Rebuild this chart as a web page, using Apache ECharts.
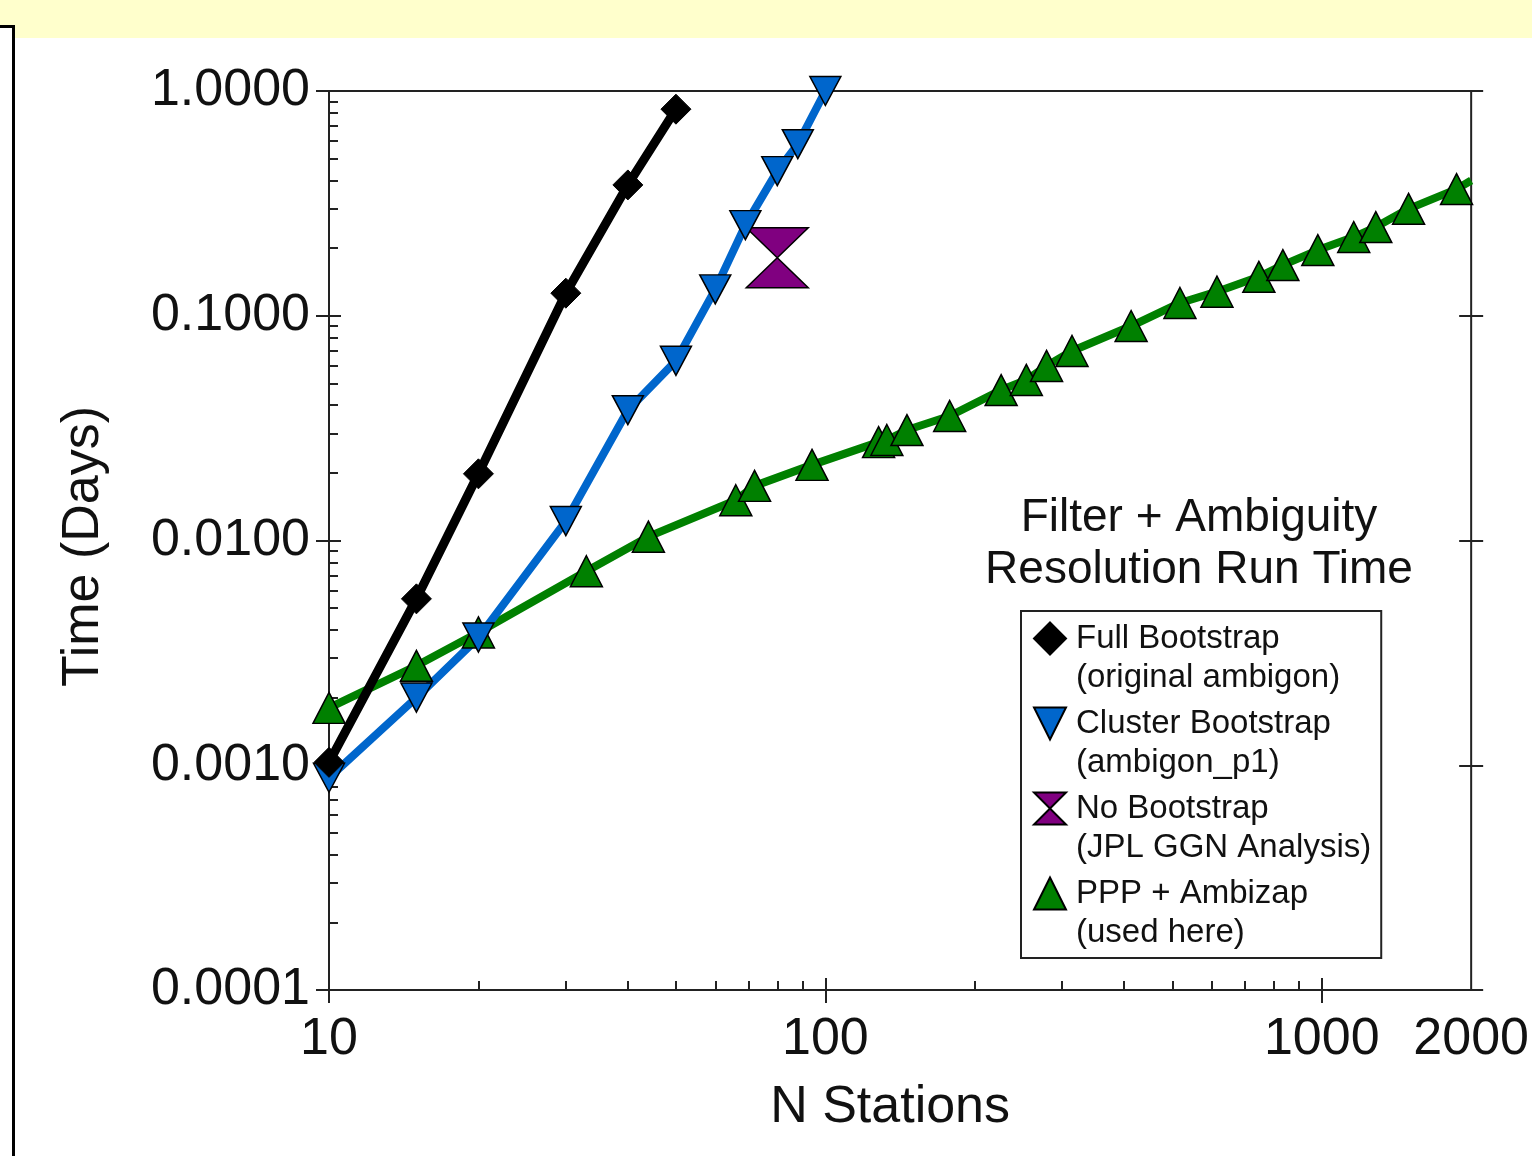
<!DOCTYPE html>
<html>
<head>
<meta charset="utf-8">
<title>Filter + Ambiguity Resolution Run Time</title>
<script src="https://cdn.jsdelivr.net/npm/echarts@6/dist/echarts.min.js"></script>
<style>
  html, body { margin: 0; padding: 0; background: #fff; }
  #band { position: absolute; left: 0; top: 0; width: 1532px; height: 38px; background: #ffffcc; }
  #frame { position: absolute; left: -10px; top: 25px; width: 19px; height: 1200px; border: 3px solid #000; background: #fff; }
  #chart { position: absolute; left: 0; top: 0; width: 1532px; height: 1156px; }
</style>
</head>
<body>
<div id="band"></div>
<div id="frame"></div>
<div id="chart"></div>
<script>
// Full Bootstrap (original ambigon)
const fullN = [10, 15, 20, 30, 40, 50]
const fullT = [0.00103, 0.0055, 0.0198, 0.126, 0.382, 0.83]
// Cluster Bootstrap (ambigon_p1)
const clusterN = [10, 15, 20, 30, 40, 50, 60, 69, 80, 88, 100]
const clusterT = [0.00088, 0.0020, 0.0037, 0.0122, 0.038, 0.063, 0.131, 0.253, 0.44, 0.58, 1.0]
// No Bootstrap (JPL GGN Analysis)
const noN = [80]
const noT = [0.181]
// PPP + Ambizap (used here)
const pppN = [10, 15, 20, 33, 44, 66, 72, 94, 128, 133, 146, 178, 226, 254, 279, 314, 413, 518, 615, 747, 835, 982, 1160, 1285, 1496, 1869, 2000]
const pppT = [0.0018, 0.00277, 0.0039, 0.0073, 0.0104, 0.0151, 0.0175, 0.0217, 0.0274, 0.028, 0.031, 0.0358, 0.0467, 0.0518, 0.0598, 0.0697, 0.090, 0.114, 0.128, 0.149, 0.168, 0.196, 0.224, 0.248, 0.299, 0.366, 0.40]

// tick labels / tick values
const xMajor = [10, 100, 1000]
const xLabels = [10, 100, 1000, 2000]
const xMinor = [20, 30, 40, 50, 60, 70, 80, 90, 200, 300, 400, 500, 600, 700, 800, 900]
const yMajor = [0.0001, 0.001, 0.01, 0.1, 1]
const minorMult = [2, 3, 4, 5, 6, 7, 8, 9]

const legendSub = {
  'Full Bootstrap': '(original ambigon)',
  'Cluster Bootstrap': '(ambigon_p1)',
  'No Bootstrap': '(JPL GGN Analysis)',
  'PPP + Ambizap': '(used here)'
}

const FONT = '"Liberation Sans", Arial, Helvetica, sans-serif'
const AXIS = '#222'
const downTri = 'path://M0,0 L10,0 L5,10 Z'
const upTri = 'path://M5,0 L10,10 L0,10 Z'
const hourglass = 'path://M0,0 L10,0 L0,10 L10,10 Z'

const lg = v => Math.log10(v)
const pairs = (xs, ys) => xs.map((x, i) => [x, ys[i]])

let yMinor = []
for (let i = 0; i < yMajor.length - 1; i++) {
  minorMult.forEach(m => yMinor.push(lg(yMajor[i] * m)))
}

const xMin = lg(10)
const xMax = lg(2000)

// helper axes living in log10 space, only used for ticks/labels
function tickX(opts) {
  return Object.assign({
    type: 'value', position: 'bottom', min: xMin, max: xMax,
    axisLine: { show: false, onZero: false }, axisLabel: { show: false }, splitLine: { show: false }
  }, opts)
}
function tickY(pos, opts) {
  return Object.assign({
    type: 'value', position: pos, min: -4, max: 0,
    axisLine: { show: false, onZero: false }, axisLabel: { show: false }, splitLine: { show: false }
  }, opts)
}

const chart = echarts.init(document.getElementById('chart'))
chart.setOption({
  animation: false,
  title: {
    text: 'Filter + Ambiguity\nResolution Run Time',
    left: 1199,
    top: 492,
    padding: 0,
    textAlign: 'center',
    textStyle: { fontFamily: FONT, fontSize: 46, fontWeight: 'normal', lineHeight: 52, color: '#111' }
  },
  legend: {
    orient: 'vertical',
    left: 1021,
    top: 611,
    padding: [-31, 10, 6, 12],
    itemGap: -32,
    itemWidth: 32,
    itemHeight: 32,
    borderColor: AXIS,
    borderWidth: 2,
    selectedMode: false,
    data: [
      { name: 'Full Bootstrap', icon: 'diamond' },
      { name: 'Cluster Bootstrap', icon: downTri },
      { name: 'No Bootstrap', icon: hourglass },
      { name: 'PPP + Ambizap', icon: upTri }
    ],
    formatter: name => '\n' + name + '\n' + legendSub[name],
    textStyle: { fontFamily: FONT, fontSize: 33, lineHeight: 39, color: '#111', padding: [0, 0, 0, 5] }
  },
  grid: {
    left: 329, right: 57, top: 91, bottom: 166,
    show: true, borderColor: AXIS, borderWidth: 2, backgroundColor: 'transparent'
  },
  xAxis: [
    {
      type: 'log', logBase: 10, min: 10, max: 2000, position: 'bottom',
      axisLine: { show: false, onZero: false }, axisTick: { show: false }, axisLabel: { show: false }, splitLine: { show: false }
    },
    tickX({
      axisTick: { show: true, inside: false, length: 13, customValues: xMajor.map(lg), lineStyle: { color: AXIS, width: 2 } },
      axisLabel: {
        show: true, customValues: xLabels.map(lg), margin: 24,
        formatter: v => String(Math.round(Math.pow(10, v))),
        fontFamily: FONT, fontSize: 52, color: '#111'
      },
      name: 'N Stations', nameLocation: 'middle', nameGap: 92,
      nameTextStyle: { fontFamily: FONT, fontSize: 52, color: '#111', padding: [0, 20, 0, 0] }
    }),
    tickX({ axisTick: { show: true, inside: true, length: 12, customValues: xMajor.map(lg), lineStyle: { color: AXIS, width: 2 } } }),
    tickX({ axisTick: { show: true, inside: true, length: 9, customValues: xMinor.map(lg), lineStyle: { color: AXIS, width: 2 } } })
  ],
  yAxis: [
    {
      type: 'log', logBase: 10, min: 0.0001, max: 1, position: 'left',
      axisLine: { show: false, onZero: false },
      axisTick: { show: true, inside: false, length: 13, lineStyle: { color: AXIS, width: 2 } },
      axisLabel: { margin: 19, formatter: v => Number(v).toFixed(4), fontFamily: FONT, fontSize: 52, color: '#111' },
      splitLine: { show: false },
      name: 'Time (Days)', nameLocation: 'middle', nameGap: 219,
      nameTextStyle: { fontFamily: FONT, fontSize: 52, color: '#111', padding: [0, 12, 0, 0] }
    },
    tickY('left', { interval: 1, axisTick: { show: true, inside: true, length: 12, lineStyle: { color: AXIS, width: 2 } } }),
    tickY('left', { axisTick: { show: true, inside: true, length: 9, customValues: yMinor, lineStyle: { color: AXIS, width: 2 } } }),
    tickY('right', { interval: 1, axisTick: { show: true, inside: false, length: 12, lineStyle: { color: AXIS, width: 2 } } }),
    tickY('right', { interval: 1, axisTick: { show: true, inside: true, length: 12, lineStyle: { color: AXIS, width: 2 } } })
  ],
  series: [
    {
      name: 'PPP + Ambizap', type: 'line', xAxisIndex: 0, yAxisIndex: 0,
      data: pairs(pppN, pppT).map((p, i) => i === pppN.length - 1 ? { value: p, symbol: 'none' } : p),
      symbol: upTri, symbolSize: [32, 31],
      lineStyle: { color: '#008000', width: 8 },
      itemStyle: { color: '#008000', borderColor: '#000', borderWidth: 1.5 }
    },
    {
      name: 'No Bootstrap', type: 'line', xAxisIndex: 0, yAxisIndex: 0,
      data: pairs(noN, noT),
      symbol: hourglass, symbolSize: [62, 60],
      lineStyle: { width: 0 },
      itemStyle: { color: '#800080', borderColor: '#000', borderWidth: 1.5 }
    },
    {
      name: 'Cluster Bootstrap', type: 'line', xAxisIndex: 0, yAxisIndex: 0,
      data: pairs(clusterN, clusterT),
      symbol: downTri, symbolSize: [31, 29],
      lineStyle: { color: '#0066cc', width: 8 },
      itemStyle: { color: '#0066cc', borderColor: '#000', borderWidth: 1.5 }
    },
    {
      name: 'Full Bootstrap', type: 'line', xAxisIndex: 0, yAxisIndex: 0,
      data: pairs(fullN, fullT),
      symbol: 'diamond', symbolSize: [30, 30],
      lineStyle: { color: '#000', width: 9 },
      itemStyle: { color: '#000', borderColor: '#000', borderWidth: 1 }
    }
  ]
})
</script>
</body>
</html>
